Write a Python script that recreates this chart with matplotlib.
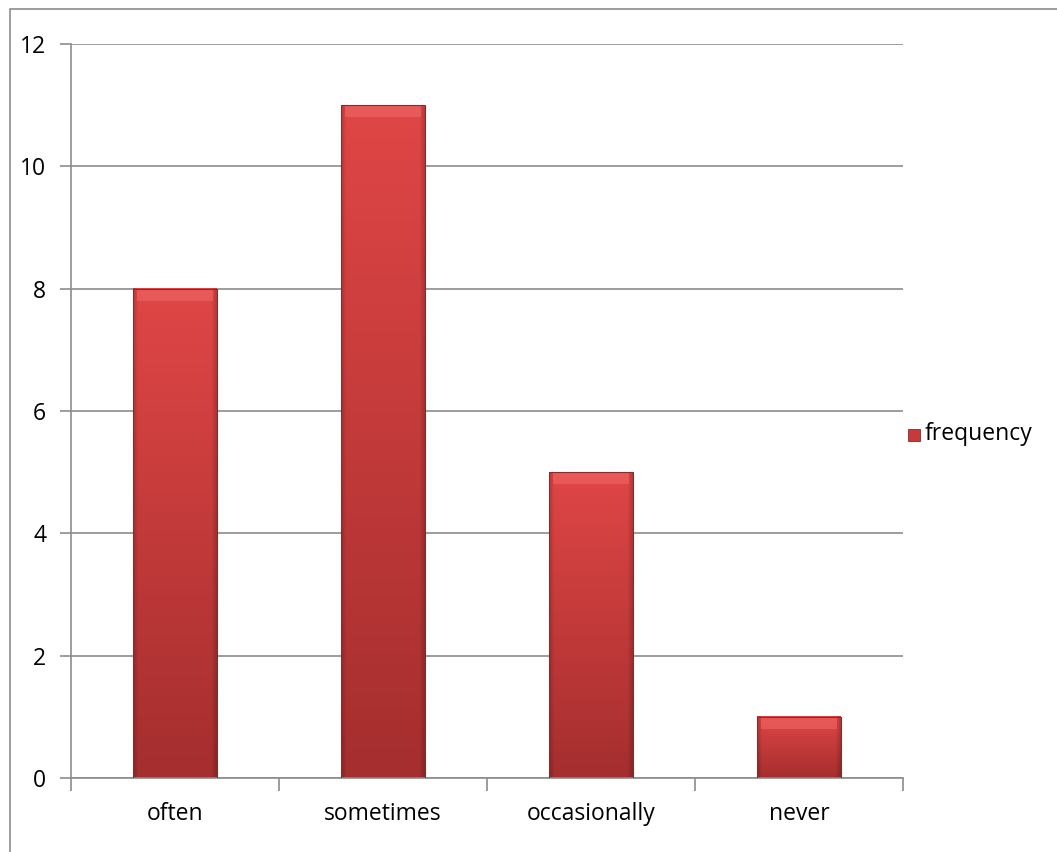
import numpy as np
import matplotlib.pyplot as plt
from matplotlib.patches import Rectangle
from matplotlib.colors import to_rgb

categories = ["often", "sometimes", "occasionally", "never"]
frequency = [8, 11, 5, 1]
yticks = [0, 2, 4, 6, 8, 10, 12]

plt.rcParams['font.family'] = ['Open Sans', 'DejaVu Sans']

W, H = 1057, 852
fig = plt.figure(figsize=(W / 100, H / 100), dpi=100)
# plot area in pixel coords
left, right, top, bottom = 71, 903, 44, 778
ax = fig.add_axes([left / W, 1 - bottom / H, (right - left) / W, (bottom - top) / H])

# outer chart frame, runs off the right and bottom edges
fig.patches.append(Rectangle((10 / W, -0.05), 1.1, 1 - 9 / H + 0.05, transform=fig.transFigure,
                             fill=False, edgecolor='#8c8c8c', linewidth=1.2))

fs = 16.5
ax.set_xlim(-0.5, len(categories) - 0.5)
ax.set_ylim(0, 12)
ax.set_yticks(yticks)
ax.grid(axis='y', color='#8c8c8c', linewidth=1.2)
ax.set_axisbelow(True)
for s in ['top', 'right']:
    ax.spines[s].set_visible(False)
for s in ['left', 'bottom']:
    ax.spines[s].set_color('#8c8c8c')
    ax.spines[s].set_linewidth(1.2)
ax.tick_params(axis='y', length=8, width=1.2, color='#8c8c8c', labelsize=fs, pad=10)
ax.tick_params(axis='x', length=0, labelsize=fs, pad=17)
ax.set_xticks(range(len(categories)))
ax.set_xticklabels(categories)
# category separator ticks on the x axis
ax.set_xticks(np.arange(-0.5, len(categories)), minor=True)
ax.tick_params(axis='x', which='minor', length=9, width=1.2, color='#8c8c8c')

# shaded bar fill: lighter top, darker bottom, darker sides
top_c = np.array(to_rgb('#e04646'))
bot_c = np.array(to_rgb('#a52e2e'))
ny, nx = 600, 80
t = np.linspace(0, 1, ny)[:, None]
col = top_c * (1 - t[..., None]) + bot_c * t[..., None]
xs = np.linspace(0, 1, nx)
edge = 1 - 0.18 * np.clip(1 - np.minimum(xs, 1 - xs) / 0.06, 0, 1)
img = col * edge[None, :, None]

bar_w = 0.4
bars = ax.bar(range(len(categories)), frequency, width=bar_w, color='none',
              edgecolor='#8a2a2a', linewidth=0.8, zorder=3)
for b, v in zip(bars, frequency):
    x0 = b.get_x()
    ax.imshow(img, extent=(x0, x0 + bar_w, 0, v), aspect='auto', origin='upper',
              zorder=2, interpolation='bilinear')
    # bevel highlight along the top
    ax.add_patch(Rectangle((x0 + 0.015, v - 0.2), bar_w - 0.03, 0.18,
                           facecolor='#f06a6a', edgecolor='none', alpha=0.55, zorder=2.5))

ax.set_xlim(-0.5, len(categories) - 0.5)
ax.set_ylim(0, 12)

# legend entry to the right of the plot
fig.patches.append(Rectangle((908 / W, 1 - 441 / H), 12 / W, 12 / H, transform=fig.transFigure,
                             facecolor='#c83a3a', edgecolor='#8a2a2a', linewidth=0.6))
fig.text(925 / W, 1 - 434 / H, "frequency", fontsize=fs, va='center', ha='left')

fig.savefig("out.png", dpi=100)
